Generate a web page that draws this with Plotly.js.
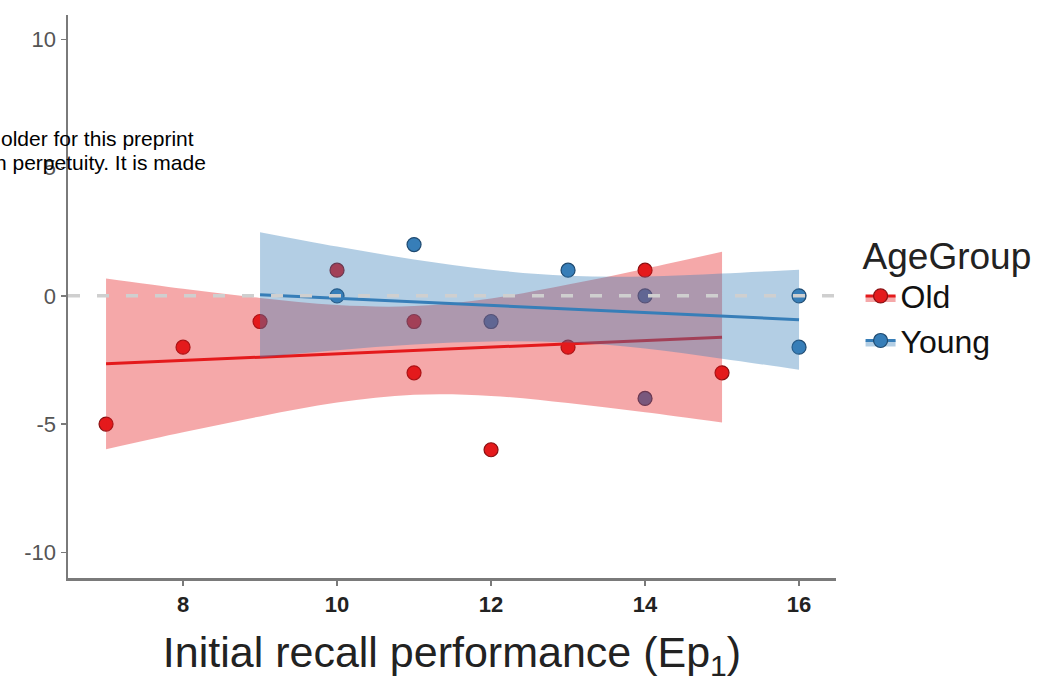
<!DOCTYPE html>
<html>
<head>
<meta charset="utf-8">
<script src="https://cdn.plot.ly/plotly-3.0.1.min.js"></script>
<style>html,body{margin:0;padding:0;background:#fff;}#chart{width:1058px;height:682px;}</style>
</head>
<body>
<div id="chart"></div>
<script>
// Observed points
const oldX = [7, 8, 9, 10, 11, 11, 12, 13, 14, 15];
const oldY = [-5, -2, -1, 1, -1, -3, -6, -2, 1, -3];
const youngX = [10, 11, 12, 13, 14, 14, 16, 16];
const youngY = [0, 2, -1, 1, 0, -4, 0, -2];

// Fitted lines and confidence bands
const oldFitX = [7, 8, 9, 10, 11, 12, 13, 14, 15];
const oldFit = [-2.65, -2.52, -2.39, -2.26, -2.13, -2.00, -1.87, -1.74, -1.61];
const oldUpper = [0.68, 0.28, -0.08, -0.36, -0.40, -0.10, 0.44, 1.06, 1.72];
const oldLower = [-5.98, -5.32, -4.70, -4.16, -3.86, -3.90, -4.18, -4.54, -4.94];

const youngFitX = [9, 10, 11, 12, 13, 14, 15, 16];
const youngFit = [0.04, -0.10, -0.24, -0.38, -0.52, -0.65, -0.79, -0.93];
const youngUpper = [2.48, 1.92, 1.42, 1.02, 0.78, 0.75, 0.87, 1.02];
const youngLower = [-2.40, -2.12, -1.90, -1.78, -1.82, -2.05, -2.45, -2.88];

const groups = ['Old', 'Young'];
const xTicks = [8, 10, 12, 14, 16];
const yTicks = [-10, -5, 0, 5, 10];

const RED = '#E41A1C', BLUE = '#377EB8';
const REDF = 'rgba(228,26,28,0.38)', BLUEF = 'rgba(55,126,184,0.38)';
const FONT = 'Liberation Sans, Arial, sans-serif';

const traces = [
  {x: oldX, y: oldY, type: 'scatter', mode: 'markers', showlegend: false,
   marker: {color: RED, size: 14, line: {color: '#8a1012', width: 1.2}}},
  {x: youngX, y: youngY, type: 'scatter', mode: 'markers', showlegend: false,
   marker: {color: BLUE, size: 14, line: {color: '#1f4a70', width: 1.2}}},
  {x: oldFitX, y: oldUpper, type: 'scatter', mode: 'lines', showlegend: false, hoverinfo: 'skip',
   line: {width: 0, shape: 'spline'}},
  {x: oldFitX, y: oldLower, type: 'scatter', mode: 'lines', showlegend: false, hoverinfo: 'skip',
   fill: 'tonexty', fillcolor: REDF, line: {width: 0, shape: 'spline'}},
  {x: oldFitX, y: oldFit, type: 'scatter', mode: 'lines', showlegend: false,
   line: {color: RED, width: 3}},
  {x: youngFitX, y: youngUpper, type: 'scatter', mode: 'lines', showlegend: false, hoverinfo: 'skip',
   line: {width: 0, shape: 'spline'}},
  {x: youngFitX, y: youngLower, type: 'scatter', mode: 'lines', showlegend: false, hoverinfo: 'skip',
   fill: 'tonexty', fillcolor: BLUEF, line: {width: 0, shape: 'spline'}},
  {x: youngFitX, y: youngFit, type: 'scatter', mode: 'lines', showlegend: false,
   line: {color: BLUE, width: 3}},
  // legend entries
  {x: [null], y: [null], type: 'scatter', mode: 'lines+markers', name: groups[0], fill: 'toself',
   fillcolor: REDF, line: {color: RED, width: 3}, marker: {color: RED, size: 14, line: {color: '#8a1012', width: 1.2}}},
  {x: [null], y: [null], type: 'scatter', mode: 'lines+markers', name: groups[1], fill: 'toself',
   fillcolor: BLUEF, line: {color: BLUE, width: 3}, marker: {color: BLUE, size: 14, line: {color: '#1f4a70', width: 1.2}}}
];

const layout = {
  width: 1058, height: 682,
  margin: {l: 68, r: 222, t: 15, b: 104},
  paper_bgcolor: '#fff', plot_bgcolor: '#fff',
  font: {family: FONT, color: '#222'},
  showlegend: true,
  legend: {
    x: 1.032, y: 0.635, xanchor: 'left', yanchor: 'top',
    traceorder: 'normal',
    title: {text: 'AgeGroup', font: {size: 37, color: '#222'}},
    font: {size: 32, color: '#111'},
    itemwidth: 30, tracegroupgap: 0
  },
  xaxis: {
    range: [6.506, 16.48], tickvals: xTicks, ticktext: xTicks.map(String),
    showgrid: false, zeroline: false, showline: true, linecolor: '#7a7a7a', linewidth: 2.5,
    ticks: 'outside', ticklen: 5, tickcolor: '#7a7a7a', tickwidth: 1.5,
    tickfont: {size: 22, color: '#222', family: FONT, weight: 'bold'},
    title: {text: 'Initial recall performance (Ep<sub>1</sub>)', font: {size: 43, color: '#222'}, standoff: 22}
  },
  yaxis: {
    range: [-11.0, 10.95], tickvals: yTicks, ticktext: yTicks.map(String),
    showgrid: false, zeroline: false, showline: true, linecolor: '#7a7a7a', linewidth: 2.5,
    ticks: 'outside', ticklen: 5, tickcolor: '#7a7a7a', tickwidth: 1.5,
    tickfont: {size: 22, color: '#555'}
  },
  shapes: [{
    type: 'line', xref: 'paper', x0: 0, x1: 1, yref: 'y', y0: 0, y1: 0, layer: 'above',
    line: {color: '#cfcfcf', width: 3.5, dash: '12px,17px'}
  }],
  annotations: [
    {xref: 'paper', yref: 'paper', x: (196 - 68) / 768, y: (578 - 138) / 563, xanchor: 'right', yanchor: 'middle',
     text: 'older for this preprint', showarrow: false, font: {size: 21, color: '#000', family: FONT}},
    {xref: 'paper', yref: 'paper', x: (208 - 68) / 768, y: (578 - 162) / 563, xanchor: 'right', yanchor: 'middle',
     text: 'n perpetuity. It is made', showarrow: false, font: {size: 21, color: '#000', family: FONT}}
  ]
};

Plotly.newPlot('chart', traces, layout, {displayModeBar: false, staticPlot: true});
</script>
</body>
</html>
